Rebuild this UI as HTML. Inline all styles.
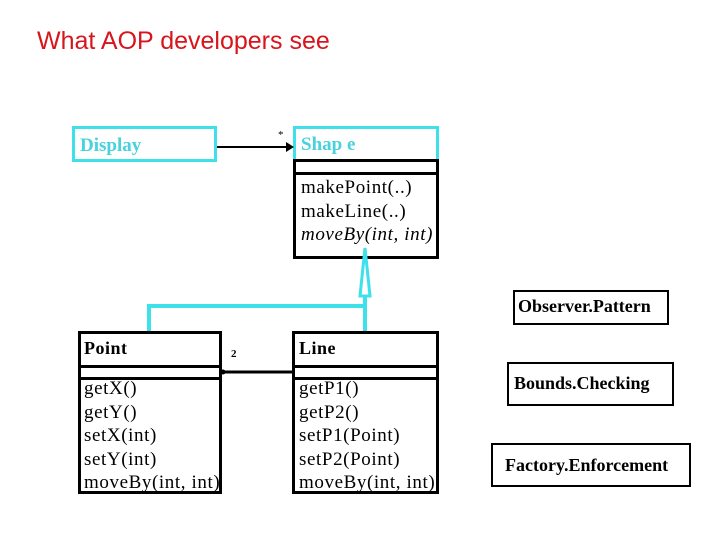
<!DOCTYPE html>
<html><head><style>
body{margin:0;width:720px;height:540px;background:#fff;position:relative;overflow:hidden;font-family:"Liberation Serif",serif}
.a{position:absolute;box-sizing:border-box}
.t{position:absolute;white-space:nowrap}
.m{font-size:19px;line-height:23.5px;color:#000;letter-spacing:0.6px}
</style></head><body>
<div class="t" style="left:37px;top:27px;font-family:'Liberation Sans',sans-serif;font-size:25px;color:#d8141c">What AOP developers see</div>

<div class="a" style="left:72px;top:126px;width:145px;height:36px;border:3px solid #3ee0ea"></div>
<div class="t" style="left:80px;top:135px;font-size:19px;font-weight:bold;color:#48d2dc">Display</div>

<div class="a" style="left:293px;top:126px;width:146px;height:133px;border:3px solid #000;border-top:none"></div>
<div class="a" style="left:293px;top:126px;width:146px;height:36px;border:3px solid #3ee0ea;border-bottom:none"></div>
<div class="a" style="left:293px;top:159px;width:146px;height:3px;background:#000"></div>
<div class="a" style="left:293px;top:172px;width:146px;height:3px;background:#000"></div>
<div class="t" style="left:301px;top:134px;font-size:19px;font-weight:bold;color:#48d2dc">Shap e</div>
<div class="t m" style="left:301px;top:176px">makePoint(..)<br>makeLine(..)<br><i>moveBy(int, int)</i></div>

<svg class="a" style="left:0;top:0" width="720" height="540">
<line x1="217" y1="147" x2="288" y2="147" stroke="#000" stroke-width="2"/>
<polygon points="294,147 286,142 286,152" fill="#000"/>
<text x="278" y="138" font-size="11" font-family="Liberation Serif">*</text>
<polygon points="365,248 360,296 370,296" fill="#fff" stroke="#3ee0ea" stroke-width="3"/>
<polyline points="365,296 365,331" fill="none" stroke="#3ee0ea" stroke-width="4"/>
<polyline points="149,332 149,306 365,306" fill="none" stroke="#3ee0ea" stroke-width="4"/>
<line x1="222" y1="372" x2="293" y2="372" stroke="#000" stroke-width="3"/>
<circle cx="223" cy="372" r="2.5" fill="#000"/>
<text x="231" y="357" font-size="11" font-weight="bold" font-family="Liberation Serif">2</text>
</svg>

<div class="a" style="left:78px;top:331px;width:144px;height:163px;border:3px solid #000"></div>
<div class="a" style="left:78px;top:365px;width:144px;height:3px;background:#000"></div>
<div class="a" style="left:78px;top:377px;width:144px;height:3px;background:#000"></div>
<div class="t" style="left:84px;top:338px;font-size:18px;font-weight:bold;letter-spacing:0.5px">Point</div>
<div class="t m" style="left:84px;top:377px">getX()<br>getY()<br>setX(int)<br>setY(int)<br>moveBy(int, int)</div>

<div class="a" style="left:292px;top:331px;width:147px;height:163px;border:3px solid #000"></div>
<div class="a" style="left:292px;top:365px;width:147px;height:3px;background:#000"></div>
<div class="a" style="left:292px;top:377px;width:147px;height:3px;background:#000"></div>
<div class="t" style="left:299px;top:338px;font-size:18px;font-weight:bold;letter-spacing:0.5px">Line</div>
<div class="t m" style="left:299px;top:377px">getP1()<br>getP2()<br>setP1(Point)<br>setP2(Point)<br>moveBy(int, int)</div>

<div class="a" style="left:513px;top:290px;width:156px;height:35px;border:2px solid #000"></div>
<div class="t" style="left:518px;top:296px;font-size:18px;font-weight:bold">Observer.Pattern</div>
<div class="a" style="left:507px;top:362px;width:167px;height:44px;border:2px solid #000"></div>
<div class="t" style="left:514px;top:373px;font-size:18px;font-weight:bold">Bounds.Checking</div>
<div class="a" style="left:491px;top:443px;width:200px;height:44px;border:2px solid #000"></div>
<div class="t" style="left:505px;top:455px;font-size:18px;font-weight:bold">Factory.Enforcement</div>
</body></html>
